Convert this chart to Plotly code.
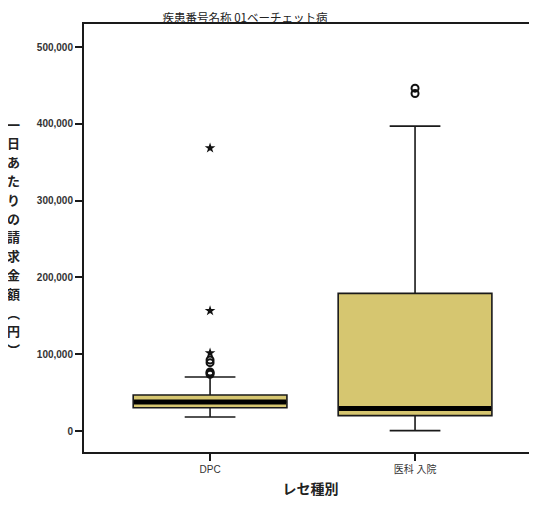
import plotly.graph_objects as go

# ---- data ----
categories = ["DPC", "医科 入院"]
cat_pos = [0, 1]
q1 = [30300, 20000]
median = [37800, 29500]
q3 = [46900, 179300]
lower_whisker = [18200, 500]
upper_whisker = [70300, 397000]

# outliers: (category index, value)
circle_cat = [0, 0, 0, 0, 0, 1, 1]
circle_val = [92500, 89000, 77000, 75500, 74000, 446500, 439500]
star_cat = [0, 0, 0]
star_val = [368500, 156500, 101500]

y_ticks = [0, 100000, 200000, 300000, 400000, 500000]
title_text = "疾患番号名称 01ベーチェット病"
y_title = "一日あたりの請求金額︵円︶"
x_title = "レセ種別"

box_color = "#d6c670"
box_width = 0.75
line_col = "#1a1a1a"
font_latin = "Liberation Sans, Arial, Noto Sans CJK JP"
font_cjk = "Noto Sans CJK JP, Noto Sans CJK SC, sans-serif"

W, H = 537, 505
OFF = 8  # page body margin offset
ML, MR, MT, MB = 84 - OFF, OFF, 24 - OFF, H - (452 - OFF)
PH = H - MT - MB
PW = W - ML - MR

fig = go.Figure()

for i in range(len(categories)):
    fig.add_trace(go.Box(
        x=[cat_pos[i]], q1=[q1[i]], median=[median[i]], q3=[q3[i]],
        lowerfence=[lower_whisker[i]], upperfence=[upper_whisker[i]],
        width=box_width, whiskerwidth=0.33, boxpoints=False,
        fillcolor=box_color, line=dict(color=line_col, width=1.6),
        showlegend=False, hoverinfo="skip"))
    # thick median bar
    fig.add_trace(go.Scatter(
        x=[cat_pos[i] - box_width / 2 + 0.004, cat_pos[i] + box_width / 2 - 0.004],
        y=[median[i], median[i]], mode="lines",
        line=dict(color="#000000", width=5), showlegend=False, hoverinfo="skip"))

fig.add_trace(go.Scatter(
    x=[cat_pos[c] for c in circle_cat], y=circle_val, mode="markers",
    marker=dict(symbol="circle-open", size=7, color="#111", line=dict(width=2, color="#111")),
    showlegend=False, hoverinfo="skip"))
fig.add_trace(go.Scatter(
    x=[cat_pos[c] for c in star_cat], y=star_val, mode="markers",
    marker=dict(symbol="star", size=8, color="#111"),
    showlegend=False, hoverinfo="skip"))

fig.update_layout(
    width=W, height=H,
    margin=dict(l=ML, r=MR, t=MT, b=MB, autoexpand=False),
    paper_bgcolor="white", plot_bgcolor="white",
    font=dict(family=font_latin, color="#333"),
    title=dict(text=title_text, x=(245 - OFF) / W, xanchor="center",
               y=1 - 10 / H, yanchor="middle",
               font=dict(family=font_cjk, size=11.5, color="#222")),
    xaxis=dict(
        range=[-0.615, 1.595], tickmode="array", tickvals=cat_pos, ticktext=categories,
        showline=True, mirror=True, linecolor=line_col, linewidth=2,
        ticks="outside", ticklen=7, tickwidth=1.5, tickcolor=line_col,
        showgrid=False, zeroline=False, automargin=False,
        tickfont=dict(family=font_latin, size=10, color="#333"),
        title=dict(text=x_title, font=dict(family=font_cjk, size=14, color="#222", weight="bold"),
                   standoff=10),
    ),
    yaxis=dict(
        range=[-27300, 530000], tickmode="array", tickvals=y_ticks, tickformat=",",
        showline=True, linecolor=line_col, linewidth=2,
        ticks="outside", ticklen=7, tickwidth=1.5, tickcolor=line_col,
        showgrid=False, zeroline=False, automargin=False,
        tickfont=dict(family=font_latin, size=10, color="#333", weight="bold"),
    ),
)

# vertical y-axis title, one character per line (screen px positions)
top_px, step_px = 124, 18.8
for k, ch in enumerate(y_title):
    py = top_px + k * step_px - OFF
    fig.add_annotation(
        text=ch, xref="paper", yref="paper",
        x=(13 - OFF - ML) / PW, y=(H - MB - py) / PH, xanchor="center", yanchor="middle",
        showarrow=False,
        font=dict(family=font_cjk, size=13, color="#222", weight="bold"))

fig.write_html("out.html")
